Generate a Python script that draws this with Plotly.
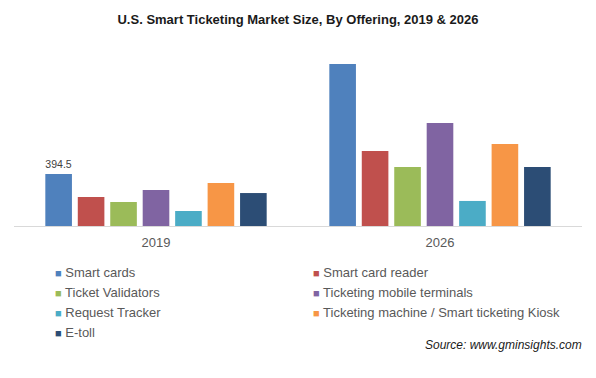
import plotly.graph_objects as go

years = ["2019", "2026"]
series = [
    "Smart cards",
    "Smart card reader",
    "Ticket Validators",
    "Ticketing mobile terminals",
    "Request Tracker",
    "Ticketing machine / Smart ticketing Kiosk",
    "E-toll",
]
values = {
    "Smart cards": [394.5, 1229],
    "Smart card reader": [220, 569],
    "Ticket Validators": [182, 448],
    "Ticketing mobile terminals": [273, 781],
    "Request Tracker": [114, 190],
    "Ticketing machine / Smart ticketing Kiosk": [326, 622],
    "E-toll": [250, 448],
}
labels = {"Smart cards": ["394.5", ""]}
colors = ["#4f81bd", "#c0504d", "#9bbb59", "#8064a2", "#4bacc6", "#f79646", "#2c4d75"]
legend_column = ["legend", "legend2", "legend", "legend2", "legend", "legend2", "legend"]

# page body has an 8px default margin: lay out in page pixels minus that offset
OFF = 8
W, H = 596 - 2 * OFF, 378 - 2 * OFF
PLOT_L, PLOT_R, PLOT_T, PLOT_B = 14 - OFF, 582 - OFF, 50 - OFF, 226 - OFF
L, R, T, B = PLOT_L, W - PLOT_R, PLOT_T, H - PLOT_B
PW, PH = PLOT_R - PLOT_L, PLOT_B - PLOT_T

fig = go.Figure()
for name, col in zip(series, colors):
    fig.add_trace(go.Bar(
        x=years, y=values[name], name=name, marker_color=col,
        marker_line_width=0, showlegend=False, legendgroup=name,
        text=labels.get(name), textposition="outside",
        textfont=dict(size=12, color="#404040"), cliponaxis=False,
        hoverinfo="x+y+name",
    ))
for name, col, lg in zip(series, colors, legend_column):
    fig.add_trace(go.Scatter(
        x=[None], y=[None], mode="markers", legendgroup=name, legend=lg,
        name=f'<span style="color:{col};font-size:11px">■</span> {name}',
        marker=dict(symbol="square", size=1, color="rgba(0,0,0,0)"),
    ))

legend_common = dict(
    orientation="v", xref="container", yref="container", yanchor="top",
    font=dict(size=13, color="#595959"), bgcolor="rgba(0,0,0,0)",
    traceorder="normal",
)
LEG_TOP = 257 - OFF

fig.update_layout(
    width=W, height=H,
    paper_bgcolor="white", plot_bgcolor="white",
    margin=dict(l=L, r=R, t=T, b=B, autoexpand=False),
    font=dict(family="Liberation Sans, Arial, sans-serif", color="#595959"),
    title=dict(
        text="<b>U.S. Smart Ticketing Market Size, By Offering, 2019 & 2026</b>",
        x=(298 - OFF) / W, xanchor="center", xref="container",
        y=1 - (19 - OFF) / H, yanchor="middle", yref="container",
        font=dict(family="Liberation Sans, Arial, sans-serif", size=13, color="#1a1a1a"),
    ),
    barmode="group", bargap=0.2, bargroupgap=0.18,
    xaxis=dict(showline=True, linecolor="#d9d9d9", linewidth=1, ticks="",
               tickfont=dict(size=13, color="#595959"), showgrid=False,
               ticklabelstandoff=4),
    yaxis=dict(range=[0, 1335], visible=False, showgrid=False),
    legend=dict(x=(15 - OFF) / W, y=1 - LEG_TOP / H, xanchor="left", **legend_common),
    legend2=dict(x=(273 - OFF) / W, y=1 - LEG_TOP / H, xanchor="left", **legend_common),
    annotations=[dict(
        text="<i>Source: www.gminsights.com</i>", xref="paper", yref="paper",
        x=(584 - OFF - PLOT_L) / PW, y=(PLOT_B - (345 - OFF)) / PH,
        xanchor="right", yanchor="middle",
        showarrow=False, font=dict(size=12, color="#1a1a1a"),
    )],
)
fig.write_html("out.html")
